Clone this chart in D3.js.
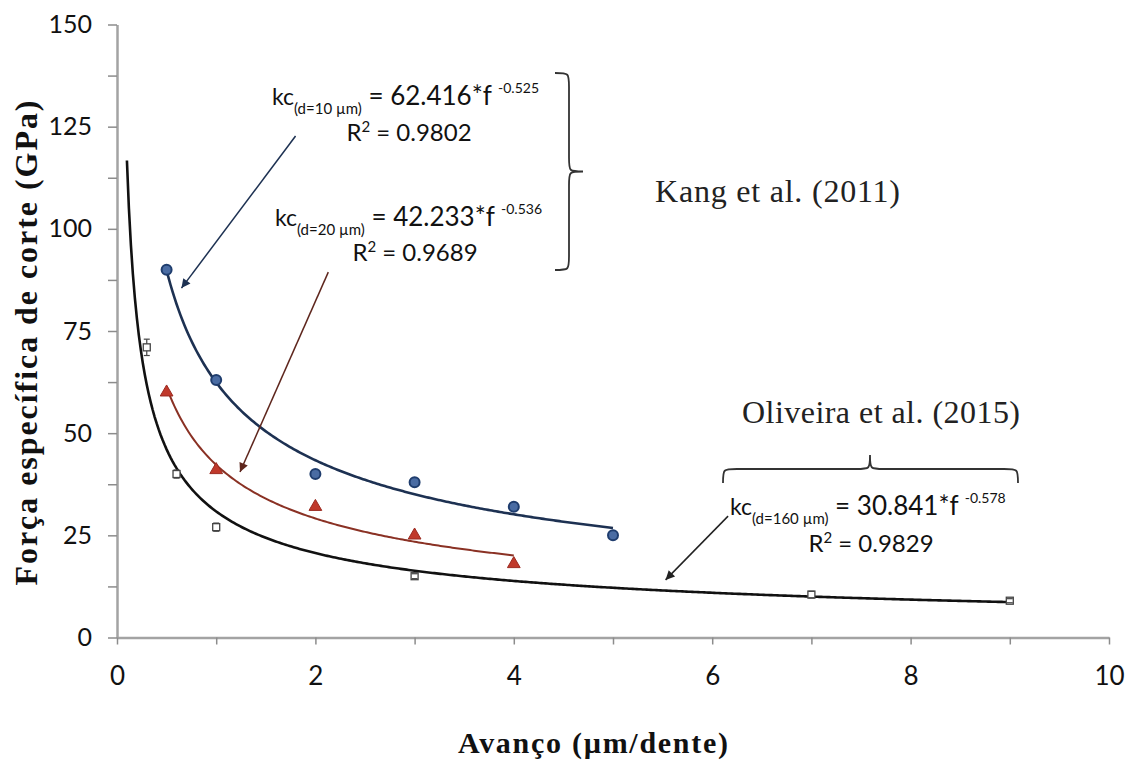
<!DOCTYPE html>
<html>
<head>
<meta charset="utf-8">
<script src="https://cdn.jsdelivr.net/npm/d3@7"></script>
<style>
    body { margin: 0; background: #fff; }
    svg { display: block; background: #fff; }
    .tick text { font-family: Lato, "Open Sans", sans-serif; fill: #111; }
    .axis-title { font-family: "Liberation Serif", "Times New Roman", serif; font-weight: bold; fill: #111; }
    .eq { font-family: Lato, "Open Sans", sans-serif; fill: #111; }
    .ref { font-family: "Liberation Serif", "Times New Roman", serif; fill: #222; }
</style>
</head>
<body>
<script>
// Set chart dimensions
const width = 1133;
const height = 762;
const margin = { top: 24.5, right: 24, bottom: 124.5, left: 117 };

// Kang et al. (2011), d = 10 µm
const kang10X = [0.5, 1, 2, 3, 4, 5];
const kang10Y = [90, 63, 40, 38, 32, 25];

// Kang et al. (2011), d = 20 µm
const kang20X = [0.5, 1, 2, 3, 4];
const kang20Y = [60, 41, 32, 25, 18];

// Oliveira et al. (2015), d = 160 µm (with error bars)
const oliv160X = [0.3, 0.6, 1, 3, 7, 9];
const oliv160Y = [71, 40, 27, 15, 10.5, 9];
const oliv160Err = [2, 1, 1, 0.6, 0.8, 0.5];

// Power-law fits kc = a * f^b, as printed on the chart
const fitLabels = ["(d=10 \u00b5m)", "(d=20 \u00b5m)", "(d=160 \u00b5m)"];
const fitCoef = [62.416, 42.233, 30.841];
const fitExp = [-0.525, -0.536, -0.578];
const fitR2 = ["0.9802", "0.9689", "0.9829"];
const fitFrom = [0.5, 0.5, 0.1];
const fitTo = [5, 4, 9];

// Axis ticks and labels
const xTicks = [0, 1, 2, 3, 4, 5, 6, 7, 8, 9, 10];
const xLabels = [0, 2, 4, 6, 8, 10];
const yTicks = [0, 12.5, 25, 37.5, 50, 62.5, 75, 87.5, 100, 112.5, 125, 137.5, 150];
const yLabels = [0, 25, 50, 75, 100, 125, 150];

// Create the SVG container
const svg = d3.select("body")
    .append("svg")
    .attr("width", width)
    .attr("height", height);

// Scales
const xScale = d3.scaleLinear()
    .domain([0, 10])
    .range([margin.left, width - margin.right]);

const yScale = d3.scaleLinear()
    .domain([0, 150])
    .range([height - margin.bottom, margin.top]);

// Arrow heads
const defs = svg.append("defs");
[["arrow-blue", "#1d3152"], ["arrow-red", "#5e261d"], ["arrow-black", "#222"]].forEach(([id, c]) => {
    defs.append("marker")
        .attr("id", id)
        .attr("viewBox", "0 0 10 10")
        .attr("refX", 10)
        .attr("refY", 5)
        .attr("markerUnits", "userSpaceOnUse")
        .attr("markerWidth", 15)
        .attr("markerHeight", 9)
        .attr("orient", "auto")
        .append("path")
        .attr("d", "M0,0 L10,5 L0,10 z")
        .attr("fill", c);
});

// Axes
const leftAxis = d3.axisLeft(yScale)
    .tickValues(yTicks)
    .tickSize(9)
    .tickSizeOuter(0)
    .tickPadding(16)
    .tickFormat(d => yLabels.includes(d) ? d : "");

const bottomAxis = d3.axisBottom(xScale)
    .tickValues(xTicks)
    .tickSize(7)
    .tickSizeOuter(0)
    .tickPadding(22)
    .tickFormat(d => xLabels.includes(d) ? d : "");

const yAxisG = svg.append("g")
    .attr("transform", `translate(${margin.left}, 0)`)
    .call(leftAxis);

const xAxisG = svg.append("g")
    .attr("transform", `translate(0, ${height - margin.bottom})`)
    .call(bottomAxis);

[yAxisG, xAxisG].forEach(g => {
    g.select(".domain").attr("stroke", "#a3a3a3").attr("stroke-width", 2.5);
    g.selectAll(".tick line").attr("stroke", "#8c8c8c").attr("stroke-width", 1.5);
});
yAxisG.selectAll(".tick text").style("font-size", "25px");
xAxisG.selectAll(".tick text").style("font-size", "26px");

// Axis titles
svg.append("text")
    .attr("class", "axis-title")
    .attr("transform", "translate(37, 343) rotate(-90)")
    .attr("text-anchor", "middle")
    .attr("textLength", 485)
    .attr("lengthAdjust", "spacing")
    .style("font-size", "32px")
    .text("Força específica de corte (GPa)");

svg.append("text")
    .attr("class", "axis-title")
    .attr("x", 593)
    .attr("y", 753)
    .attr("text-anchor", "middle")
    .attr("textLength", 270)
    .attr("lengthAdjust", "spacing")
    .style("font-size", "30px")
    .text("Avanço (µm/dente)");

// Fitted curves
const fitColors = ["#1d3152", "#8a3124", "#111"];
const fitWidths = [2.6, 2, 2.6];
const line = d3.line()
    .x(d => xScale(d[0]))
    .y(d => yScale(d[1]));

fitCoef.forEach((a, i) => {
    const pts = d3.range(fitFrom[i], fitTo[i] + 1e-9, 0.02)
        .map(f => [f, a * Math.pow(f, fitExp[i])]);
    svg.append("path")
        .datum(pts)
        .attr("fill", "none")
        .attr("stroke", fitColors[i])
        .attr("stroke-width", fitWidths[i])
        .attr("d", line);
});

// Oliveira points: open squares with error bars
const olivData = oliv160X.map((x, i) => ({ x, y: oliv160Y[i], e: oliv160Err[i] }));
const olivG = svg.append("g")
    .selectAll("g")
    .data(olivData)
    .join("g");

olivG.append("line")
    .attr("x1", d => xScale(d.x))
    .attr("x2", d => xScale(d.x))
    .attr("y1", d => yScale(d.y - d.e))
    .attr("y2", d => yScale(d.y + d.e))
    .attr("stroke", "#444")
    .attr("stroke-width", 1.2);

olivG.append("rect")
    .attr("x", d => xScale(d.x) - 3.5)
    .attr("y", d => yScale(d.y) - 3.5)
    .attr("width", 7)
    .attr("height", 7)
    .attr("fill", "#fff")
    .attr("stroke", "#444")
    .attr("stroke-width", 1.3);

olivG.selectAll(".cap")
    .data(d => [d.y - d.e, d.y + d.e].map(v => ({ x: d.x, v })))
    .join("line")
    .attr("x1", d => xScale(d.x) - 3)
    .attr("x2", d => xScale(d.x) + 3)
    .attr("y1", d => yScale(d.v))
    .attr("y2", d => yScale(d.v))
    .attr("stroke", "#444")
    .attr("stroke-width", 1.2);

// Kang d=20 points: red triangles
svg.append("g")
    .selectAll("path")
    .data(kang20X.map((x, i) => ({ x, y: kang20Y[i] })))
    .join("path")
    .attr("d", d3.symbol(d3.symbolTriangle, 70))
    .attr("transform", d => `translate(${xScale(d.x)}, ${yScale(d.y)})`)
    .attr("fill", "#c0392b")
    .attr("stroke", "#9b2a20")
    .attr("stroke-width", 1);

// Kang d=10 points: blue circles
svg.append("g")
    .selectAll("circle")
    .data(kang10X.map((x, i) => ({ x, y: kang10Y[i] })))
    .join("circle")
    .attr("cx", d => xScale(d.x))
    .attr("cy", d => yScale(d.y))
    .attr("r", 5)
    .attr("fill", "#4a6ca3")
    .attr("stroke", "#1f3d6e")
    .attr("stroke-width", 2);

// Annotation arrows (in data units)
const arrows = [
    { from: [1.80, 122.7], to: [0.65, 85.5], marker: "arrow-blue", color: "#1d3152" },
    { from: [2.13, 89.4], to: [1.24, 40.5], marker: "arrow-red", color: "#5e261d" },
    { from: [6.16, 29.7], to: [5.53, 14.1], marker: "arrow-black", color: "#222" }
];
arrows.forEach(a => {
    svg.append("line")
        .attr("x1", xScale(a.from[0]))
        .attr("y1", yScale(a.from[1]))
        .attr("x2", xScale(a.to[0]))
        .attr("y2", yScale(a.to[1]))
        .attr("stroke", a.color)
        .attr("stroke-width", 1.5)
        .attr("marker-end", `url(#${a.marker})`);
});

// Equation labels
const eqPos = [[272, 105], [275, 226], [730, 515]];
const r2Pos = [[409, 141], [415, 261], [871, 552]];

fitCoef.forEach((a, i) => {
    const t = svg.append("text")
        .attr("class", "eq")
        .attr("x", eqPos[i][0])
        .attr("y", eqPos[i][1])
        .style("font-size", "23px");
    t.append("tspan").text("kc");
    t.append("tspan").attr("dy", 9).style("font-size", "15px").text(fitLabels[i]);
    t.append("tspan").attr("dy", -9).style("font-size", "26px").text(" = " + a.toFixed(3) + "*f ");
    t.append("tspan").attr("dy", -12).style("font-size", "14px").text(fitExp[i].toFixed(3));

    const r = svg.append("text")
        .attr("class", "eq")
        .attr("x", r2Pos[i][0])
        .attr("y", r2Pos[i][1])
        .attr("text-anchor", "middle")
        .style("font-size", "24px");
    r.append("tspan").text("R");
    r.append("tspan").attr("dy", -9).style("font-size", "15px").text("2");
    r.append("tspan").attr("dy", 9).text(" = " + fitR2[i]);
});

// Curly braces
function vBrace(x0, y1, y2, w) {
    const xm = x0 + w / 2, ym = (y1 + y2) / 2, q = 14;
    return `M${x0},${y1} C${xm},${y1} ${xm},${y1} ${xm},${y1 + q} L${xm},${ym - q}
        C${xm},${ym} ${xm},${ym} ${x0 + w},${ym} C${xm},${ym} ${xm},${ym} ${xm},${ym + q}
        L${xm},${y2 - q} C${xm},${y2} ${xm},${y2} ${x0},${y2}`;
}
function hBrace(x1, x2, y0, h, xt) {
    const ym = y0 - h / 2, q = 14;
    return `M${x1},${y0} C${x1},${ym} ${x1},${ym} ${x1 + q},${ym} L${xt - q},${ym}
        C${xt},${ym} ${xt},${ym} ${xt},${y0 - h} C${xt},${ym} ${xt},${ym} ${xt + q},${ym}
        L${x2 - q},${ym} C${x2},${ym} ${x2},${ym} ${x2},${y0}`;
}
svg.append("path")
    .attr("d", vBrace(555, 73, 270, 28))
    .attr("fill", "none")
    .attr("stroke", "#333")
    .attr("stroke-width", 1.8);

svg.append("path")
    .attr("d", hBrace(723, 1018, 483, 28, 870))
    .attr("fill", "none")
    .attr("stroke", "#333")
    .attr("stroke-width", 1.8);

// Source labels
svg.append("text")
    .attr("class", "ref")
    .attr("x", 655)
    .attr("y", 202)
    .attr("textLength", 245)
    .attr("lengthAdjust", "spacing")
    .style("font-size", "32px")
    .text("Kang et al. (2011)");

svg.append("text")
    .attr("class", "ref")
    .attr("x", 742)
    .attr("y", 423)
    .attr("textLength", 278)
    .attr("lengthAdjust", "spacing")
    .style("font-size", "32px")
    .text("Oliveira et al. (2015)");
</script>
</body>
</html>
